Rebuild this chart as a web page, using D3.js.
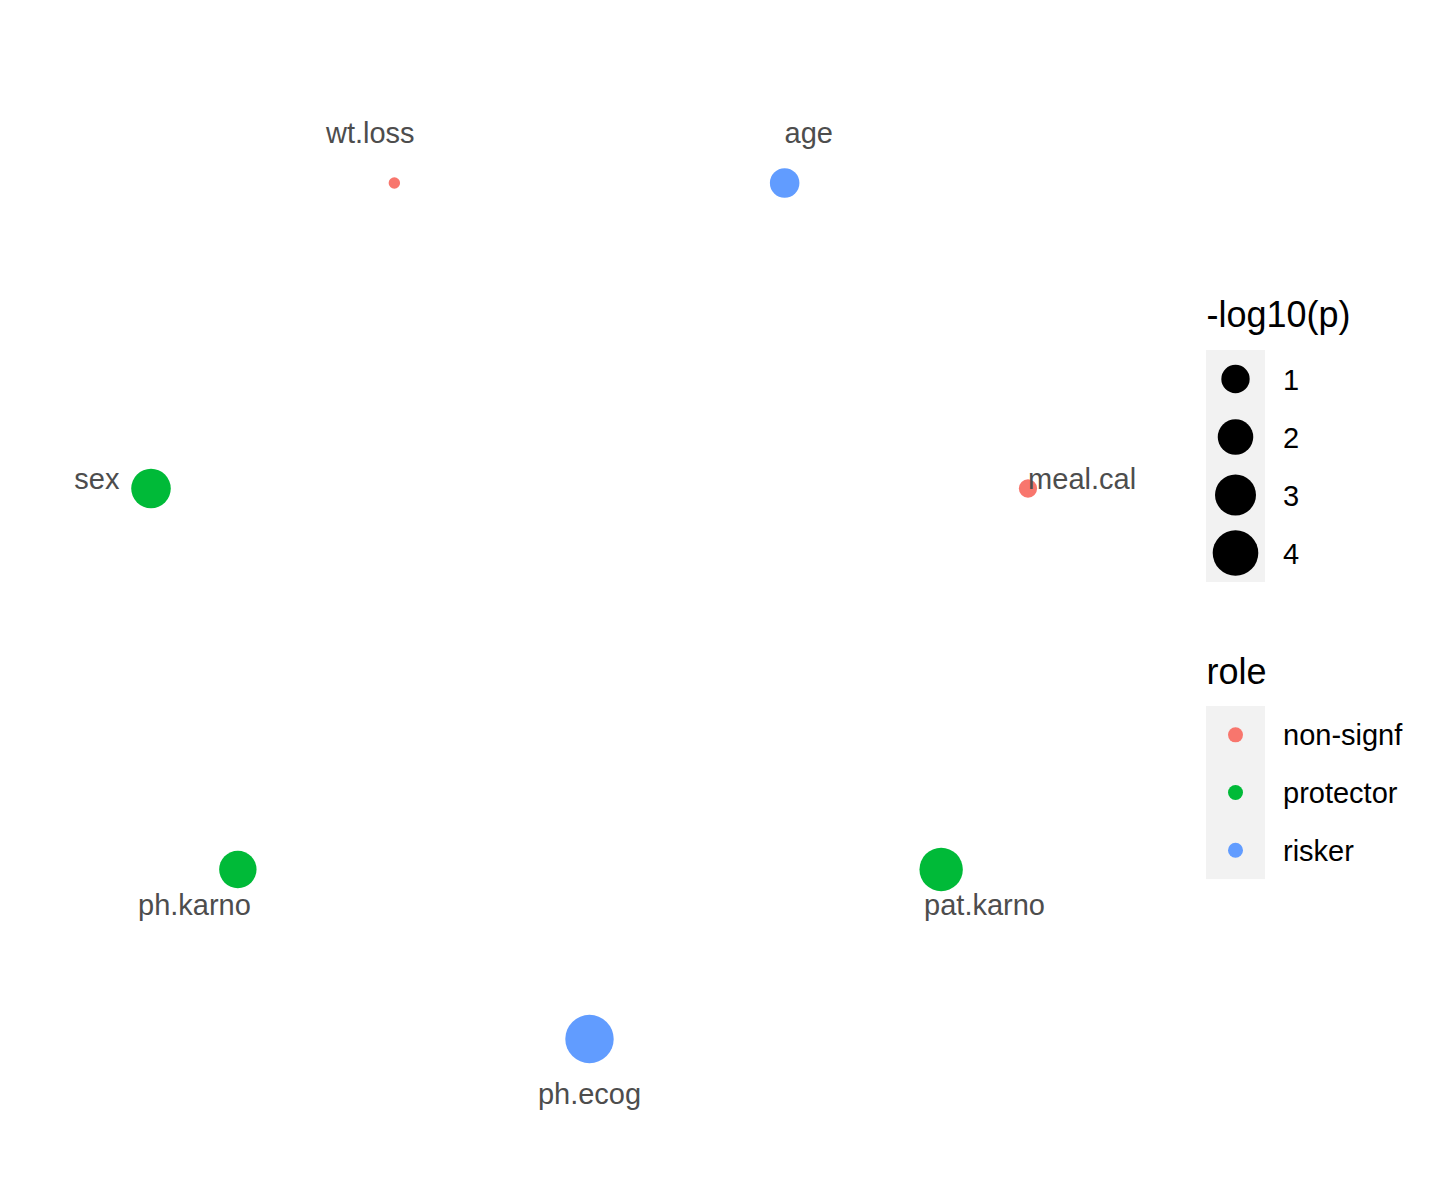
<!DOCTYPE html>
<html>
<head>
<meta charset="utf-8">
<script src="https://cdn.jsdelivr.net/npm/d3@7"></script>
<style>
  html, body { margin: 0; padding: 0; background: #ffffff; }
  svg { display: block; }
  text { font-family: "Liberation Sans", Arial, Helvetica, sans-serif; }
</style>
</head>
<body>
<div id="chart"></div>
<script>
// ---- data ----
const nodeNames = ["ph.ecog", "pat.karno", "meal.cal", "age", "wt.loss", "sex", "ph.karno"];
const nodeLogP  = [4.68, 3.50, 0.18, 1.14, 0.02, 2.72, 2.32];
const nodeRole  = ["risker", "protector", "non-signf", "risker", "non-signf", "protector", "protector"];
const roleLevels = ["non-signf", "protector", "risker"];
const roleColors = ["#F8766D", "#00BA38", "#619CFF"];
const sizeBreaks = [1, 2, 3, 4];
const sizeTitle = "-log10(p)";
const roleTitle = "role";

// ---- setup ----
const W = 1440, H = 1200;
const svg = d3.select("#chart").append("svg").attr("width", W).attr("height", H);
svg.append("rect").attr("width", W).attr("height", H).attr("fill", "#ffffff");

// circle layout
const n = nodeNames.length;
const nodes = nodeNames.map((name, i) => {
  const a = -Math.PI / 2 + i * 2 * Math.PI / n;
  return { name, v: nodeLogP[i], role: nodeRole[i], ux: Math.cos(a), uy: Math.sin(a) };
});

const x = d3.scaleLinear().domain(d3.extent(nodes, d => d.ux)).range([151, 1028]);
const y = d3.scaleLinear().domain(d3.extent(nodes, d => d.uy)).range([1039, 183]);
const color = d3.scaleOrdinal().domain(roleLevels).range(roleColors);
const sizeNorm = d3.scaleLinear().domain(d3.extent(nodeLogP)).range([0, 1]);
const sizeR = d3.scaleLinear().domain([0, 1]).range([5.7, 24.2]);
const radius = v => sizeR(Math.sqrt(Math.max(0, sizeNorm(v))));

const g = svg.append("g");
g.selectAll("circle.node").data(nodes).join("circle")
  .attr("class", "node")
  .attr("cx", d => x(d.ux))
  .attr("cy", d => y(d.uy))
  .attr("r", d => radius(d.v))
  .attr("fill", d => color(d.role));

g.selectAll("text.lab").data(nodes).join("text")
  .attr("class", "lab")
  .attr("x", d => x(d.ux) + 55.5 * d.ux)
  .attr("y", d => y(d.uy) - 55.5 * d.uy + 9.6 + 3 * d.ux * d.ux)
  .attr("text-anchor", "middle")
  .attr("font-size", 29)
  .attr("fill", "#4D4D4D")
  .text(d => d.name);

// ---- legends ----
const lg = svg.append("g");
const legX = 1206, keyW = 59, keyCx = 1235.5, labX = 1283;

// size legend
lg.append("text").attr("x", legX + 0.5).attr("y", 327).attr("font-size", 36).attr("fill", "#000").text(sizeTitle);
const sTop = 350, sKeyH = 58;
lg.append("rect").attr("x", legX).attr("y", sTop).attr("width", keyW).attr("height", sKeyH * sizeBreaks.length).attr("fill", "#F2F2F2");
sizeBreaks.forEach((b, i) => {
  const cy = sTop + sKeyH * i + sKeyH / 2;
  lg.append("circle").attr("cx", keyCx).attr("cy", cy).attr("r", radius(b)).attr("fill", "#000");
  lg.append("text").attr("x", labX).attr("y", cy + 10.6).attr("font-size", 29).attr("fill", "#000").text(b);
});

// role legend
lg.append("text").attr("x", legX + 0.5).attr("y", 684).attr("font-size", 36).attr("fill", "#000").text(roleTitle);
const rTop = 706, rKeyH = 57.7;
lg.append("rect").attr("x", legX).attr("y", rTop).attr("width", keyW).attr("height", rKeyH * roleLevels.length).attr("fill", "#F2F2F2");
roleLevels.forEach((r, i) => {
  const cy = rTop + rKeyH * i + rKeyH / 2;
  lg.append("circle").attr("cx", keyCx).attr("cy", cy).attr("r", 7.5).attr("fill", color(r));
  lg.append("text").attr("x", labX).attr("y", cy + 10.6).attr("font-size", 29).attr("fill", "#000").text(r);
});
</script>
</body>
</html>
